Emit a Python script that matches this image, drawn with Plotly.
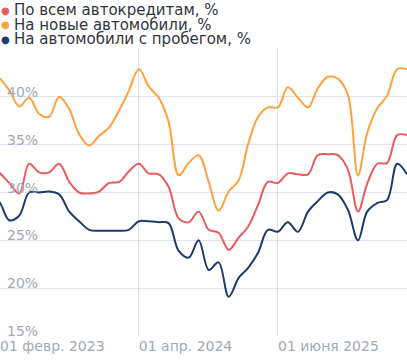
import plotly.graph_objects as go

months = [
    "2023-01-01", "2023-02-01", "2023-03-01", "2023-04-01", "2023-05-01", "2023-06-01", "2023-07-01",
    "2023-08-01", "2023-09-01", "2023-10-01", "2023-11-01", "2023-12-01",
    "2024-01-01", "2024-02-01", "2024-03-01", "2024-04-01", "2024-05-01", "2024-06-01",
    "2024-07-01", "2024-08-01", "2024-09-01", "2024-10-01", "2024-11-01", "2024-12-01",
    "2025-01-01", "2025-02-01", "2025-03-01", "2025-04-01", "2025-05-01", "2025-06-01",
    "2025-07-01", "2025-08-01", "2025-09-01", "2025-10-01", "2025-11-01", "2025-12-01",
    "2026-01-01", "2026-02-01", "2026-03-01", "2026-04-01", "2026-05-01", "2026-06-01",
    "2026-07-01",
]

all_loans = [
    32.8, 32.0, 31.0, 29.9, 33.0, 32.1, 32.1, 33.0, 31.1, 30.0, 29.9, 30.1,
    31.0, 31.1, 32.2, 33.0, 32.0, 31.9, 30.6, 27.3, 26.9, 28.0, 26.1, 25.8,
    24.0, 25.3, 26.4, 28.7, 31.1, 31.0, 32.0, 31.9, 31.9, 33.9, 34.0, 33.9,
    32.4, 28.0, 30.9, 33.0, 33.1, 36.0, 36.0,
]

new_cars = [
    42.8, 41.9, 40.7, 39.0, 39.9, 38.2, 37.9, 40.0, 38.7, 36.1, 34.9, 35.9,
    36.8, 38.6, 40.6, 42.9, 41.1, 39.9, 37.4, 31.8, 33.1, 33.9, 31.1, 28.1,
    30.1, 31.3, 35.0, 37.9, 38.9, 38.9, 41.0, 39.9, 38.9, 40.9, 42.1, 41.9,
    40.2, 31.8, 36.2, 38.8, 40.1, 42.9, 42.9,
]

used_cars = [
    30.0, 28.9, 27.1, 27.6, 30.0, 30.0, 30.1, 29.8, 28.0, 27.0, 26.1, 26.0,
    26.0, 26.0, 26.1, 27.0, 27.0, 26.9, 26.8, 23.9, 23.2, 25.0, 21.9, 22.7,
    19.1, 21.1, 22.1, 23.7, 26.1, 25.9, 26.9, 25.9, 28.0, 29.1, 30.0, 29.8,
    28.2, 25.0, 28.0, 28.9, 29.2, 33.0, 31.9,
]

series_names = [
    "По всем автокредитам, %",
    "На новые автомобили, %",
    "На автомобили с пробегом, %",
]
series_colors = ["#eb5a5c", "#ffa13d", "#1c3a6c"]

x_tickvals = ["2023-02-01", "2024-04-01", "2025-06-01"]
x_ticktext = ["01 февр. 2023", "01 апр. 2024", "01 июня 2025"]
y_tickvals = [15, 20, 25, 30, 35, 40, 45]
y_ticktext = ["15%", "20%", "25%", "30%", "35%", "40%", ""]

FONT = "DejaVu Sans"
TICK_COLOR = "#a3a7b8"
GRID_COLOR = "#dfe3f0"
LEGEND_COLOR = "#33343d"

fig = go.Figure()
for name, vals, color in zip(series_names, [all_loans, new_cars, used_cars], series_colors):
    fig.add_trace(go.Scatter(
        x=months, y=vals, name=name, mode="lines",
        line=dict(color=color, width=2, shape="spline", smoothing=1),
        showlegend=False, hoverinfo="skip",
    ))

# legend built as annotations (tight line spacing)
legend_shifts = [39, 24.5, 10]
for name, color, ys in zip(series_names, series_colors, legend_shifts):
    fig.add_annotation(
        xref="paper", yref="paper", x=0, y=1, xanchor="center", yanchor="middle",
        xshift=5, yshift=ys, showarrow=False, borderpad=0,
        text="●", font=dict(family=FONT, size=10, color=color),
    )
    fig.add_annotation(
        xref="paper", yref="paper", x=0, y=1, xanchor="left", yanchor="middle",
        xshift=13, yshift=ys, showarrow=False, borderpad=0,
        text=name, font=dict(family=FONT, size=15, color=LEGEND_COLOR),
    )

fig.update_layout(
    width=407, height=360,
    margin=dict(l=0, r=0, t=49, b=24, pad=0),
    paper_bgcolor="white", plot_bgcolor="white",
    font=dict(family=FONT, size=14, color=TICK_COLOR),
    showlegend=False,
)
fig.update_xaxes(
    type="date", range=["2023-01-31 20:00", "2026-07-01"],
    tickvals=x_tickvals, ticktext=x_ticktext,
    ticklabelposition="outside right", ticklabeloverflow="allow",
    showgrid=True, gridcolor=GRID_COLOR, gridwidth=1,
    zeroline=False, showline=False, ticks="",
    tickfont=dict(family=FONT, size=14, color=TICK_COLOR),
)
fig.update_yaxes(
    range=[15, 45], tickvals=y_tickvals, ticktext=y_ticktext,
    ticklabelposition="inside top", ticklabelshift=5, ticklabelstandoff=4,
    ticklabeloverflow="allow",
    showgrid=True, gridcolor=GRID_COLOR, gridwidth=1,
    zeroline=False, showline=False, ticks="",
    tickfont=dict(family=FONT, size=14, color=TICK_COLOR),
)

fig.write_html("out.html")
